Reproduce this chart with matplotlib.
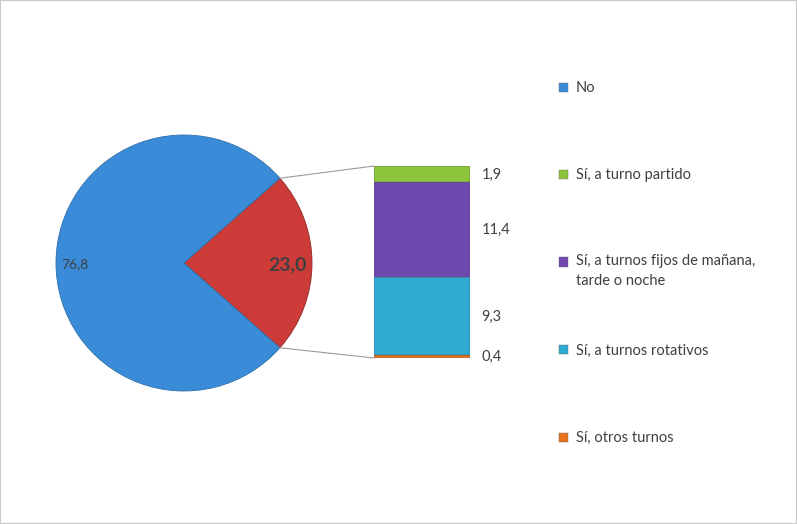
import matplotlib
matplotlib.use("Agg")
import matplotlib.pyplot as plt
from matplotlib.patches import ConnectionPatch, Rectangle
import numpy as np

plt.rcParams["font.family"] = ["Lato", "DejaVu Sans"]

# data
pie_labels = ["Sí", "No"]
pie_values = [23.0, 76.8]
pie_colors = ["#CC3B37", "#3A8CD9"]

bar_labels = ["Sí, otros turnos", "Sí, a turnos rotativos",
              "Sí, a turnos fijos de mañana,\ntarde o noche",
              "Sí, a turno partido"]
bar_values = [0.4, 9.3, 11.4, 1.9]
bar_colors = ["#E8731E", "#2EAAD3", "#6F47B0", "#8CC43C"]

legend_labels = ["No", "Sí, a turno partido",
                 "Sí, a turnos fijos de mañana,\ntarde o noche",
                 "Sí, a turnos rotativos", "Sí, otros turnos"]
legend_colors = ["#3A8CD9", "#8CC43C", "#6F47B0", "#2EAAD3", "#E8731E"]

TXT = "#404040"
W, H = 797, 524

fig = plt.figure(figsize=(W / 100, H / 100), dpi=100)
fig.patches.append(Rectangle((0, 0), 1, 1, transform=fig.transFigure,
                             fill=False, edgecolor="#C8C8C8", lw=1.5))

# pie
ax1 = fig.add_axes([56 / W, (H - 391) / H, 256 / W, 256 / H])
half = pie_values[0] / sum(pie_values) * 360 / 2
wedges, _ = ax1.pie(pie_values, colors=pie_colors, startangle=-half,
                    counterclock=True, radius=1,
                    wedgeprops=dict(edgecolor="#2F6FAA", linewidth=0.6))
wedges[0].set_edgecolor("#8E2A27")
ax1.set_xlim(-1, 1)
ax1.set_ylim(-1, 1)
ax1.set_aspect("auto")
ax1.text(0.81, -0.01, "{:.1f}".format(pie_values[0]).replace(".", ","),
         ha="center", va="center", fontsize=14, fontweight="bold", color=TXT)
ax1.text(-0.85, -0.01, "{:.1f}".format(pie_values[1]).replace(".", ","),
         ha="center", va="center", fontsize=10, color=TXT)

# stacked bar
total = sum(bar_values)
ax2 = fig.add_axes([374 / W, (H - 358) / H, 96 / W, 192 / H])
bottom = 0
for v, c in zip(bar_values, bar_colors):
    ax2.bar(0, v, width=1, bottom=bottom, color=c,
            edgecolor="#555555", linewidth=0.3)
    ax2.text(0.62, bottom + v / 2 - 0.1, "{:.1f}".format(v).replace(".", ","),
             ha="left", va="center", fontsize=10.5, color=TXT)
    bottom += v
ax2.set_xlim(-0.5, 0.5)
ax2.set_ylim(0, total)
ax2.axis("off")

# connector lines
a = np.deg2rad(half)
for sgn, yb in [(1, total), (-1, 0)]:
    con = ConnectionPatch(xyA=(np.cos(a), sgn * np.sin(a)), coordsA=ax1.transData,
                          xyB=(-0.5, yb), coordsB=ax2.transData,
                          color="#9A9A9A", lw=0.8)
    fig.add_artist(con)

# legend
y0 = 87
step = 87.5
for i, (lab, c) in enumerate(zip(legend_labels, legend_colors)):
    y = y0 + i * step
    fig.patches.append(Rectangle((559 / W, (H - y - 4.5) / H), 9 / W, 9 / H,
                                 transform=fig.transFigure, facecolor=c,
                                 edgecolor="#666666", lw=0.3))
    if "\n" in lab:
        fig.text(576 / W, (H - y + 8) / H, lab, ha="left", va="top",
                 fontsize=10.5, color=TXT, linespacing=1.55)
    else:
        fig.text(576 / W, (H - y - 1) / H, lab, ha="left", va="center",
                 fontsize=10.5, color=TXT)

fig.savefig("out.png", dpi=100)
